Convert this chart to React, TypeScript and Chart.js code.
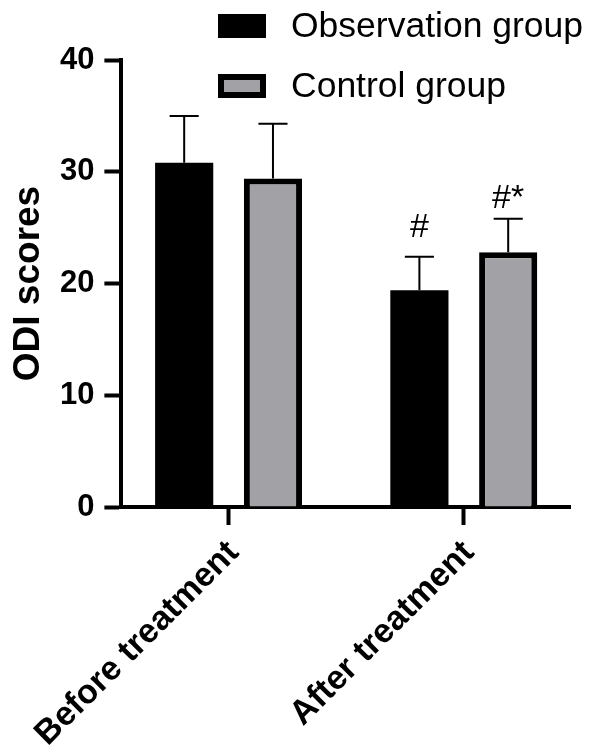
import React, { useEffect, useRef } from "react";
import { Chart, registerables } from "chart.js";

Chart.register(...registerables);

const categories = ["Before treatment", "After treatment"];
const seriesNames = ["Observation group", "Control group"];
const observationMeans = [30.8, 19.4];
const observationSD = [4.2, 3.0];
const controlMeans = [29.4, 22.8];
const controlSD = [4.9, 3.0];
const observationMarks = ["", "#"];
const controlMarks = ["", "#*"];
const yTicks = [0, 10, 20, 30, 40];
const yTitle = "ODI scores";

const FONT = "'Liberation Sans', Arial, Helvetica, sans-serif";

const errorBarPlugin = {
  id: "errorBars",
  afterDatasetsDraw(chart: any) {
    const ctx = chart.ctx;
    const yScale = chart.scales.y;
    const gaps = [20, 11];
    chart.data.datasets.forEach((ds: any, di: number) => {
      const meta = chart.getDatasetMeta(di);
      meta.data.forEach((bar: any, j: number) => {
        const mean = ds.data[j].y;
        const sd = ds.errors[j];
        const yTop = yScale.getPixelForValue(mean + sd);
        const half = bar.width / 4;
        ctx.save();
        ctx.strokeStyle = "#000";
        ctx.lineWidth = 2;
        ctx.beginPath();
        ctx.moveTo(bar.x, bar.y);
        ctx.lineTo(bar.x, yTop);
        ctx.moveTo(bar.x - half, yTop);
        ctx.lineTo(bar.x + half, yTop);
        ctx.stroke();
        const mark = ds.marks[j];
        if (mark) {
          ctx.fillStyle = "#000";
          ctx.font = `34px ${FONT}`;
          ctx.textAlign = "center";
          ctx.textBaseline = "alphabetic";
          ctx.fillText(mark, bar.x, yTop - gaps[di]);
        }
        ctx.restore();
      });
    });
  },
};

const legendPlugin = {
  id: "stackedLegend",
  afterDraw(chart: any) {
    const ctx = chart.ctx;
    const left = 218;
    const w = 48;
    const h = 24;
    const tops = [14, 74];
    chart.data.datasets.forEach((ds: any, i: number) => {
      const top = tops[i];
      ctx.save();
      ctx.fillStyle = "#000";
      ctx.fillRect(left, top, w, h);
      if (ds.borderWidth) {
        const b = 6;
        ctx.fillStyle = ds.backgroundColor;
        ctx.fillRect(left + b, top + b, w - 2 * b, h - 2 * b);
      }
      ctx.fillStyle = "#000";
      ctx.font = `35.5px ${FONT}`;
      ctx.textAlign = "left";
      ctx.textBaseline = "middle";
      ctx.fillText(ds.label, 291, top + h / 2 + 1);
      ctx.restore();
    });
  },
};

export default function App() {
  const canvasRef = useRef<HTMLCanvasElement | null>(null);

  useEffect(() => {
    if (!canvasRef.current) return;
    const chart = new Chart(canvasRef.current, {
      type: "bar",
      data: {
        datasets: [
          {
            label: seriesNames[0],
            data: observationMeans.map((v, i) => ({ x: i, y: v })),
            backgroundColor: "#000000",
            borderColor: "#000000",
            borderWidth: 0,
            errors: observationSD,
            marks: observationMarks,
          } as any,
          {
            label: seriesNames[1],
            data: controlMeans.map((v, i) => ({ x: i, y: v })),
            backgroundColor: "#a2a2a6",
            borderColor: "#000000",
            borderWidth: 6,
            borderSkipped: "start",
            errors: controlSD,
            marks: controlMarks,
          } as any,
        ],
      },
      options: {
        responsive: true,
        maintainAspectRatio: false,
        animation: false,
        events: [],
        datasets: {
          bar: { categoryPercentage: 0.755, barPercentage: 0.655, grouped: true },
        },
        layout: { padding: { left: 0, top: 60, right: 30, bottom: 0 } },
        plugins: {
          legend: { display: false },
          tooltip: { enabled: false },
          title: { display: false },
        },
        scales: {
          x: {
            type: "linear",
            min: -0.4557,
            max: 1.4515,
            offset: false,
            afterBuildTicks: (s: any) => {
              s.ticks = categories.map((_, i) => ({ value: i }));
            },
            afterFit: (s: any) => {
              s.height = 245;
            },
            ticks: {
              callback: (v: any) => categories[v] ?? "",
              minRotation: 45,
              maxRotation: 45,
              autoSkip: false,
              color: "#000",
              padding: 8,
              labelOffset: 5,
              font: { family: FONT, size: 34, weight: "bold" },
            },
            grid: {
              display: true,
              offset: false,
              drawOnChartArea: false,
              drawTicks: true,
              tickLength: 18,
              tickWidth: 4,
              tickColor: "#000",
            },
            border: { display: true, color: "#000", width: 4 },
          } as any,
          y: {
            min: 0,
            max: 40,
            afterBuildTicks: (s: any) => {
              s.ticks = yTicks.map((v) => ({ value: v }));
            },
            afterFit: (s: any) => {
              s.width = 118;
            },
            ticks: {
              color: "#000",
              padding: 10,
              font: { family: FONT, size: 31, weight: "bold" },
            },
            grid: {
              display: true,
              offset: false,
              drawOnChartArea: false,
              drawTicks: true,
              tickLength: 17,
              tickWidth: 4,
              tickColor: "#000",
            },
            border: { display: true, color: "#000", width: 4 },
            title: {
              display: true,
              text: yTitle,
              color: "#000",
              font: { family: FONT, size: 37, weight: "bold" },
              padding: { top: 3, bottom: 0 },
            },
          } as any,
        },
      },
      plugins: [errorBarPlugin, legendPlugin],
    } as any);
    return () => chart.destroy();
  }, []);

  return (
    <div style={{ position: "absolute", left: 0, top: 0, width: 600, height: 752, background: "#fff" }}>
      <canvas ref={canvasRef} />
    </div>
  );
}
